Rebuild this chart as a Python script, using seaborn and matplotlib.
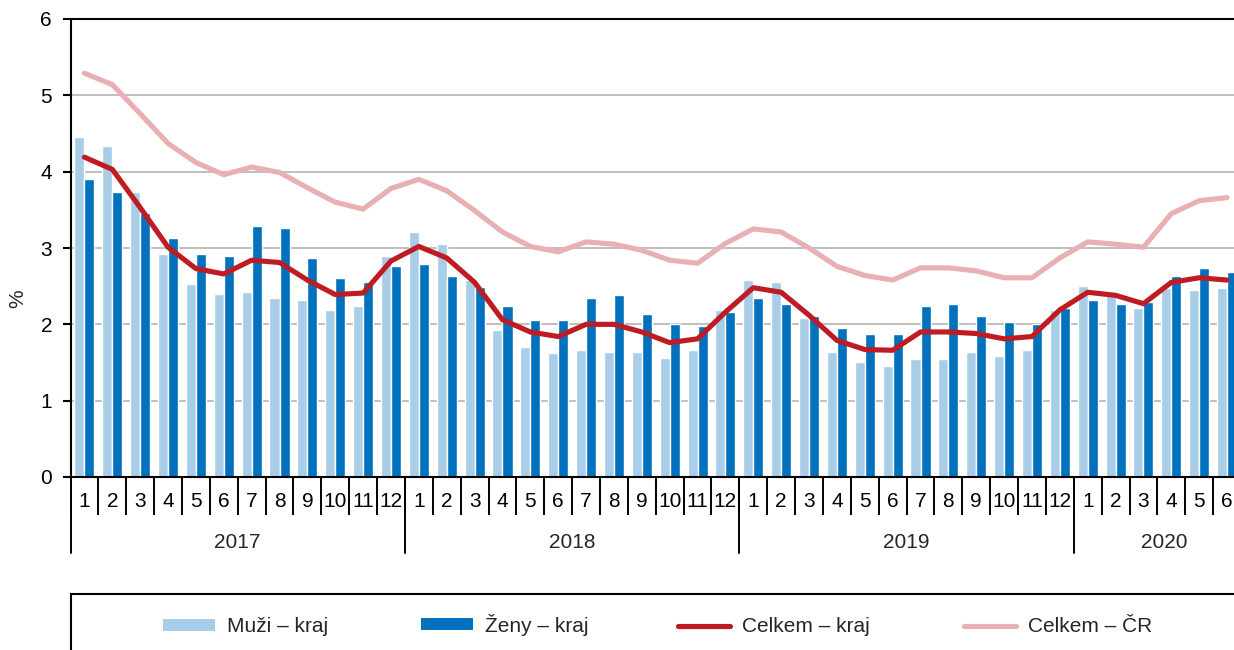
import numpy as np
import pandas as pd
import matplotlib.pyplot as plt
import matplotlib.transforms as mtransforms
from matplotlib.patches import Rectangle
import seaborn as sns

# --- data ---
years = ["2017", "2018", "2019", "2020"]
months = [str(m) for m in range(1, 13)] * 3 + [str(m) for m in range(1, 7)]

muzi_kraj = [4.46, 4.33, 3.73, 2.92, 2.53, 2.40, 2.42, 2.34, 2.32, 2.19, 2.24, 2.89,
             3.21, 3.05, 2.58, 1.93, 1.70, 1.62, 1.67, 1.64, 1.64, 1.56, 1.67, 2.19,
             2.58, 2.55, 2.08, 1.64, 1.51, 1.46, 1.54, 1.54, 1.64, 1.59, 1.67, 2.19,
             2.50, 2.41, 2.21, 2.47, 2.45, 2.47]
zeny_kraj = [3.91, 3.73, 3.46, 3.13, 2.92, 2.89, 3.29, 3.26, 2.87, 2.61, 2.55, 2.76,
             2.79, 2.63, 2.49, 2.24, 2.06, 2.06, 2.35, 2.38, 2.14, 2.01, 1.98, 2.16,
             2.35, 2.27, 2.11, 1.95, 1.87, 1.87, 2.24, 2.27, 2.11, 2.03, 2.00, 2.21,
             2.32, 2.27, 2.29, 2.63, 2.74, 2.68]
celkem_kraj = [4.19, 4.03, 3.53, 3.01, 2.73, 2.66, 2.84, 2.81, 2.58, 2.39, 2.41, 2.83,
               3.02, 2.87, 2.55, 2.06, 1.90, 1.84, 2.00, 2.00, 1.90, 1.76, 1.81, 2.16,
               2.48, 2.42, 2.12, 1.79, 1.67, 1.66, 1.90, 1.90, 1.88, 1.81, 1.84, 2.19,
               2.42, 2.38, 2.27, 2.55, 2.61, 2.58]
celkem_cr = [5.29, 5.14, 4.76, 4.37, 4.12, 3.96, 4.06, 3.99, 3.79, 3.60, 3.51, 3.78,
             3.90, 3.75, 3.49, 3.21, 3.02, 2.95, 3.08, 3.05, 2.97, 2.84, 2.80, 3.06,
             3.25, 3.21, 3.00, 2.76, 2.64, 2.58, 2.74, 2.74, 2.70, 2.61, 2.61, 2.87,
             3.08, 3.05, 3.01, 3.45, 3.62, 3.66]

bar_names = ["Muži – kraj", "Ženy – kraj"]
line_names = ["Celkem – kraj", "Celkem – ČR"]
colors = {"Muži – kraj": "#A8CDE8", "Ženy – kraj": "#0071BC",
          "Celkem – kraj": "#BE1B22", "Celkem – ČR": "#E8B0B2"}

n = len(months)
pos = list(range(n))
bars = pd.DataFrame({"pos": pos * 2,
                     "value": muzi_kraj + zeny_kraj,
                     "series": [bar_names[0]] * n + [bar_names[1]] * n})
lines = pd.DataFrame({"pos": pos * 2,
                      "value": celkem_kraj + celkem_cr,
                      "series": [line_names[0]] * n + [line_names[1]] * n})

# --- style ---
sns.set_theme(style="white")
plt.rcParams["font.family"] = ["Liberation Sans", "DejaVu Sans"]
FS = 15

fig = plt.figure(figsize=(12.34, 6.5), dpi=100)
W, H = 1234, 650
left_px, right_px, top_px, bottom_px = 70.5, 1241, 19, 477
ax = fig.add_axes([left_px / W, 1 - bottom_px / H,
                   (right_px - left_px) / W, (bottom_px - top_px) / H])

sns.barplot(data=bars, x="pos", y="value", hue="series", hue_order=bar_names,
            palette=colors, width=0.72, saturation=1, legend=False, ax=ax)
sns.lineplot(data=lines, x="pos", y="value", hue="series", hue_order=line_names,
             palette=colors, linewidth=3.7, legend=False, sort=False, ax=ax)
for ln in ax.get_lines():
    ln.set_solid_capstyle("round")
    ln.set_solid_joinstyle("round")
# pink line under red one
ax.get_lines()[1].set_zorder(3)
ax.get_lines()[0].set_zorder(4)

ax.set_xlim(-0.5, n - 0.5)
ax.set_ylim(0, 6)
ax.set_xlabel("")
ax.set_ylabel("")

# grid + spines
ax.set_axisbelow(True)
ax.yaxis.grid(True, color="#BFBFBF", linewidth=1.4)
ax.xaxis.grid(False)
for side in ["left", "bottom", "top"]:
    ax.spines[side].set_color("black")
    ax.spines[side].set_linewidth(1.5)
ax.spines["right"].set_visible(False)

# y axis
ax.set_yticks(range(0, 7))
ax.tick_params(axis="y", which="major", length=5.8, width=1.5, color="black",
               direction="out", pad=7.5, labelsize=FS, labelcolor="black", left=True)
fig.text(18 / W, 1 - 299 / H, "%", rotation=90, ha="center", va="center", fontsize=FS)

# x axis: month labels and separators
ax.set_xticks(pos)
ax.set_xticklabels(months)
ax.set_xticks(np.arange(-0.5, n, 1), minor=True)
ax.tick_params(axis="x", which="major", length=0, pad=11, labelsize=FS, labelcolor="black")
ax.tick_params(axis="x", which="minor", length=27.4, width=1.4, color="black",
               direction="out", bottom=True)

trans = mtransforms.blended_transform_factory(ax.transData, ax.transAxes)
ax_h = bottom_px - top_px
for i, yr in enumerate(years):
    x0 = i * 12 - 0.5
    ax.plot([x0, x0], [0, -76 / ax_h], color="black", lw=1.4,
            transform=trans, clip_on=False)
    x_end = min(x0 + 12, n - 0.5)
    xc = (x0 + x_end) / 2 + (0.25 if i == 3 else 0)
    ax.text(xc, -(542 - bottom_px) / ax_h, yr, transform=trans,
            ha="center", va="center", fontsize=FS)

# legend frame (only top and left edges visible)
fig.add_artist(Rectangle((71 / W, -0.2), 1.2, 0.2 + 1 - 594 / H,
                         transform=fig.transFigure, fill=False,
                         edgecolor="black", linewidth=1.5))

bar_handles = [Rectangle((0, 0), 1, 1, facecolor=colors[s], edgecolor="none") for s in bar_names]
line_handles = [plt.Line2D([], [], color=colors[s], lw=3.7, solid_capstyle="round") for s in line_names]
handles = bar_handles + line_handles
labels = bar_names + line_names
starts = [163, 421, 678, 964]
ycen = [627, 624.5, 627, 627]
for h, lab, x, yc in zip(handles, labels, starts, ycen):
    fig.legend([h], [lab], loc="center left", bbox_to_anchor=(x / W, 1 - yc / H),
               frameon=False, fontsize=FS, handlelength=2.5, handleheight=0.5,
               handletextpad=0.55, borderpad=0, borderaxespad=0)

plt.savefig("out.png", dpi=100)
